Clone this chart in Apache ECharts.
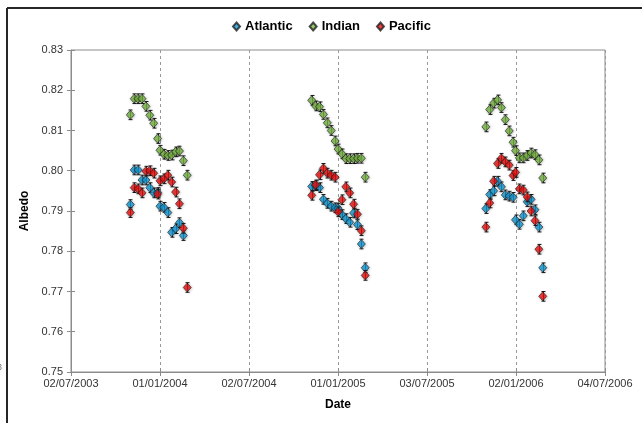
<!DOCTYPE html>
<html>
<head>
<meta charset="utf-8">
<script src="https://cdn.jsdelivr.net/npm/echarts@6/dist/echarts.min.js"></script>
<style>
  html, body { margin: 0; padding: 0; background: #ffffff; }
  #chart { width: 642px; height: 423px; }
</style>
</head>
<body>
<div id="chart"></div>
<script>
// 8-day composite dates for the three austral summer seasons
const dates = [
  '2003-11-01','2003-11-09','2003-11-17','2003-11-25','2003-12-03','2003-12-11','2003-12-19','2003-12-27',
  '2004-01-01','2004-01-09','2004-01-17','2004-01-25','2004-02-02','2004-02-10','2004-02-18','2004-02-26',
  '2004-11-08','2004-11-16','2004-11-24','2004-12-02','2004-12-10','2004-12-18','2004-12-26',
  '2005-01-01','2005-01-09','2005-01-17','2005-01-25','2005-02-02','2005-02-10','2005-02-18','2005-02-26',
  '2005-11-01','2005-11-09','2005-11-17','2005-11-25','2005-12-03','2005-12-11','2005-12-19','2005-12-27',
  '2006-01-01','2006-01-09','2006-01-17','2006-01-25','2006-02-02','2006-02-10','2006-02-18','2006-02-26'
];

const atlantic = [
  0.7916, 0.8002, 0.8002, 0.7977, 0.7977, 0.7958, 0.7945, 0.7946,
  0.7912, 0.7909, 0.7896, 0.7847, 0.7856, 0.7871, 0.7839, null,
  0.7961, 0.7963, 0.7958, 0.7929, 0.7919, 0.7912, 0.7908,
  0.7907, 0.7891, 0.7881, 0.7872, 0.7895, 0.7866, 0.7818, 0.7759,
  0.7906, 0.7941, 0.7950, 0.7974, 0.7960, 0.7940, 0.7937, 0.7934,
  0.7878, 0.7867, 0.7888, 0.7923, 0.7929, 0.7903, 0.7860, 0.7759
];

const indian = [
  0.8139, 0.8179, 0.8179, 0.8179, 0.8160, 0.8138, 0.8118, 0.8080,
  0.8051, 0.8041, 0.8038, 0.8039, 0.8047, 0.8049, 0.8025, 0.7989,
  0.8175, 0.8161, 0.8159, 0.8140, 0.8119, 0.8100, 0.8074,
  0.8054, 0.8042, 0.8030, 0.8030, 0.8030, 0.8031, 0.8031, 0.7984,
  0.8109, 0.8152, 0.8168, 0.8176, 0.8157, 0.8127, 0.8099, 0.8071,
  0.8050, 0.8032, 0.8032, 0.8038, 0.8044, 0.8040, 0.8027, 0.7982
];

const pacific = [
  0.7896, 0.7958, 0.7955, 0.7945, 0.7999, 0.8000, 0.7994, 0.7942,
  0.7975, 0.7980, 0.7989, 0.7972, 0.7947, 0.7918, 0.7857, 0.7710,
  0.7939, 0.7965, 0.7990, 0.8006, 0.7994, 0.7989, 0.7984,
  0.7898, 0.7928, 0.7960, 0.7945, 0.7917, 0.7892, 0.7851, 0.7740,
  0.7860, 0.7920, 0.7974, 0.8018, 0.8031, 0.8022, 0.8014, 0.7988,
  0.7996, 0.7955, 0.7952, 0.7935, 0.7900, 0.7876, 0.7805, 0.7688
];

// Half-width of the error bars (albedo units)
const errorBar = 0.0012;

// Date axis: start date, step between labelled ticks (days), tick labels
const axisStart = '2003-07-02';
const tickStepDays = 183;
const tickLabels = ['02/07/2003', '01/01/2004', '02/07/2004', '01/01/2005', '03/07/2005', '02/01/2006', '04/07/2006'];

const seriesDefs = [
  { name: 'Atlantic', values: atlantic, color: '#139bd8' },
  { name: 'Indian',   values: indian,   color: '#78b843' },
  { name: 'Pacific',  values: pacific,  color: '#ee1010' }
];

function toUTC(s) {
  const p = s.split('-').map(Number);
  return Date.UTC(p[0], p[1] - 1, p[2]);
}
const startMs = toUTC(axisStart);
function dayOffset(s) { return Math.round((toUTC(s) - startMs) / 86400000); }

function points(values) {
  const out = [];
  values.forEach((v, i) => { if (v !== null) out.push([dayOffset(dates[i]), v]); });
  return out;
}

const FONT = '"Liberation Sans", Arial, sans-serif';

const series = [];
seriesDefs.forEach((d, k) => {
  const pts = points(d.values);
  series.push({
    name: d.name + ' error',
    type: 'custom',
    xAxisIndex: 0, yAxisIndex: 0,
    z: 3 + k * 2,
    silent: true,
    data: pts,
    renderItem: function (params, api) {
      const x = api.value(0), y = api.value(1);
      const top = api.coord([x, y + errorBar]);
      const bot = api.coord([x, y - errorBar]);
      const cx = Math.round(top[0]) + 0.5;
      const style = { stroke: '#1a1a1a', lineWidth: 1 };
      return {
        type: 'group',
        children: [
          { type: 'line', shape: { x1: cx, y1: top[1], x2: cx, y2: bot[1] }, style: style },
          { type: 'line', shape: { x1: cx - 2, y1: top[1], x2: cx + 2, y2: top[1] }, style: style },
          { type: 'line', shape: { x1: cx - 2, y1: bot[1], x2: cx + 2, y2: bot[1] }, style: style }
        ]
      };
    }
  });
  series.push({
    name: d.name,
    type: 'scatter',
    xAxisIndex: 0, yAxisIndex: 0,
    z: 4 + k * 2,
    symbol: 'diamond',
    symbolSize: [8, 9],
    data: pts,
    itemStyle: {
      color: d.color,
      borderColor: '#202020',
      borderWidth: 0.8,
      shadowBlur: 3,
      shadowColor: 'rgba(0,0,0,0.3)',
      shadowOffsetX: 0.5,
      shadowOffsetY: 0.5
    }
  });
});

const xMax = tickStepDays * (tickLabels.length - 1);
const xLabel = function (v) { return tickLabels[Math.round(v / tickStepDays)] || ''; };

const option = {
  animation: false,
  backgroundColor: '#ffffff',
  textStyle: { fontFamily: FONT },
  legend: {
    data: seriesDefs.map(d => d.name),
    top: 15,
    left: 227,
    icon: 'diamond',
    itemWidth: 7,
    itemHeight: 8,
    itemGap: 16,
    textStyle: { fontFamily: FONT, fontWeight: 'bold', fontSize: 13, color: '#000000' }
  },
  grid: {
    left: 71, right: 37, top: 50, bottom: 51,
    show: true, borderColor: '#8c8c8c', borderWidth: 1, backgroundColor: 'transparent'
  },
  xAxis: [
    {
      type: 'value', min: 0, max: xMax, interval: tickStepDays,
      name: 'Date', nameLocation: 'middle', nameGap: 27,
      nameTextStyle: { fontFamily: FONT, fontWeight: 'bold', fontSize: 12, color: '#000000' },
      axisLine: { lineStyle: { color: '#8c8c8c', width: 1 } },
      axisTick: { show: true, length: 4, lineStyle: { color: '#8c8c8c' } },
      axisLabel: { formatter: xLabel, fontSize: 11, color: '#333333', margin: 6, fontFamily: FONT },
      splitLine: { show: true, lineStyle: { color: '#999999', type: [3, 3], width: 1 } }
    },
    {
      type: 'value', min: 0, max: xMax, interval: tickStepDays, position: 'bottom',
      axisLine: { show: false },
      axisTick: { show: true, inside: true, length: 4, lineStyle: { color: '#8c8c8c' } },
      axisLabel: { show: false },
      splitLine: { show: false }
    }
  ],
  yAxis: [
    {
      type: 'value', min: 0.75, max: 0.83, interval: 0.01,
      name: 'Albedo', nameLocation: 'middle', nameGap: 29, nameRotate: 90,
      nameTextStyle: { fontFamily: FONT, fontWeight: 'bold', fontSize: 12, color: '#000000' },
      axisLine: { show: true, lineStyle: { color: '#8c8c8c', width: 1 } },
      axisTick: { show: true, length: 4, lineStyle: { color: '#8c8c8c' } },
      axisLabel: { formatter: v => v.toFixed(2), fontSize: 11, color: '#333333', margin: 8, fontFamily: FONT },
      splitLine: { show: false }
    },
    {
      type: 'value', min: 0.75, max: 0.83, interval: 0.01, position: 'left',
      axisLine: { show: false },
      axisTick: { show: true, inside: true, length: 4, lineStyle: { color: '#8c8c8c' } },
      axisLabel: { show: false },
      splitLine: { show: false }
    }
  ],
  graphic: [
    { type: 'line', shape: { x1: 7, y1: 8, x2: 642, y2: 8 }, style: { stroke: '#262626', lineWidth: 2 } },
    { type: 'line', shape: { x1: 7, y1: 8, x2: 7, y2: 423 }, style: { stroke: '#262626', lineWidth: 2 } },
    { type: 'text', left: -3, top: 363, style: { text: '3', fill: '#777777', font: '9px ' + FONT } }
  ],
  series: series
};

const chart = echarts.init(document.getElementById('chart'), null, { renderer: 'canvas' });
chart.setOption(option);
</script>
</body>
</html>
